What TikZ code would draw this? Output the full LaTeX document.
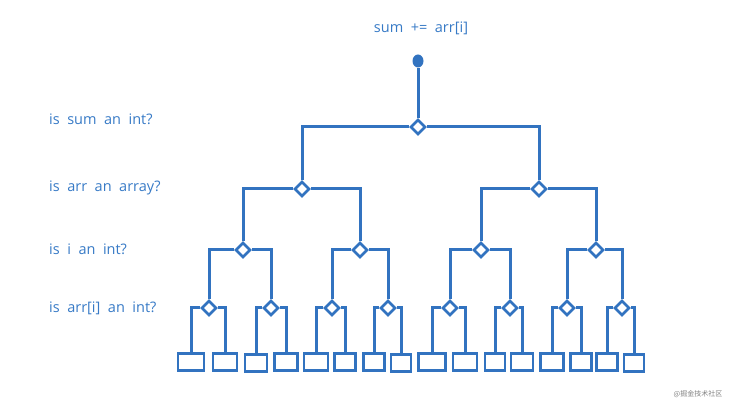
\documentclass[tikz,border=0pt]{standalone}
\usepackage{fontspec}
\setmainfont{Open Sans}
\newfontfamily\cjk{Noto Sans CJK SC}
\usepackage{tikz}
\usetikzlibrary{shapes.geometric, positioning}
\definecolor{sketchblue}{RGB}{50,115,192}
\definecolor{labelblue}{RGB}{55,122,198}

\begin{document}
\begin{tikzpicture}[
    x=1pt, y=-1pt,
    label/.style={text=labelblue, font=\fontsize{14.5}{16}\selectfont, anchor=west, inner sep=0pt},
    test/.style={diamond, draw=sketchblue, fill=white, line width=2.6pt, minimum size=15pt, inner sep=0pt},
    leaf/.style={rectangle, draw=sketchblue, line width=2.8pt, minimum width=22pt, minimum height=17pt, inner sep=0pt},
    stem/.style={draw=sketchblue, line width=3pt}
]
\useasboundingbox (0,0) rectangle (732,406);

\node[label, anchor=center] (stmt) at (421,28) {sum\ \ +=\ \ arr[i]};
\node[ellipse, fill=sketchblue, minimum width=11pt, minimum height=13pt, inner sep=0pt] (start) at (418,61) {};

\node[label] (q1) at (49,119) {is\ \ sum\ \ an\ \ int?};
\node[label] (q2) at (49,188) {is\ \ arr\ \ an\ \ array?};
\node[label] (q3) at (49,249) {is\ \ i\ \ an\ \ int?};
\node[label] (q4) at (49,308) {is\ \ arr[i]\ \ an\ \ int?};

\node[test] (t) at (418,127) {};
\node[test] (tl) at (302,189) {};
\node[test] (tr) at (539,189) {};
\node[test] (tll) at (243,250) {};
\node[test] (tlr) at (360,250) {};
\node[test] (trl) at (481,250) {};
\node[test] (trr) at (596,250) {};
\node[test] (tlll) at (209,308) {};
\node[test] (tllr) at (271,308) {};
\node[test] (tlrl) at (332,308) {};
\node[test] (tlrr) at (388,308) {};
\node[test] (trll) at (450,308) {};
\node[test] (trlr) at (510,308) {};
\node[test] (trrl) at (567,308) {};
\node[test] (trrr) at (622,308) {};

\node[leaf, minimum width=26pt] (b1) at (191,362) {};
\node[leaf, minimum width=24pt] (b2) at (225,362) {};
\node[leaf] (b3) at (256,363) {};
\node[leaf, minimum width=23pt] (b4) at (286,362) {};
\node[leaf, minimum width=24pt] (b5) at (316,362) {};
\node[leaf, minimum width=21pt] (b6) at (345,362) {};
\node[leaf, minimum width=21pt] (b7) at (374,362) {};
\node[leaf, minimum width=20pt] (b8) at (401,363) {};
\node[leaf, minimum width=27pt] (b9) at (432,362) {};
\node[leaf, minimum width=24pt] (b10) at (465,362) {};
\node[leaf, minimum width=20pt] (b11) at (495,362) {};
\node[leaf] (b12) at (522,362) {};
\node[leaf, minimum width=23pt] (b13) at (552,362) {};
\node[leaf, minimum width=21pt] (b14) at (581,362) {};
\node[leaf, minimum width=21pt] (b15) at (607,362) {};
\node[leaf, minimum width=20pt] (b16) at (634,363) {};

\node[text=gray, font=\cjk\fontsize{7}{8}\selectfont, inner sep=0pt] (mark) at (698,394) {@掘金技术社区};

\draw[stem] (start) -- (t);
\draw[stem] (t.west) -| (tl.north);
\draw[stem] (t.east) -| (tr.north);
\draw[stem] (tl.west) -| (tll.north);
\draw[stem] (tl.east) -| (tlr.north);
\draw[stem] (tr.west) -| (trl.north);
\draw[stem] (tr.east) -| (trr.north);
\draw[stem] (tll.west) -| (tlll.north);
\draw[stem] (tll.east) -| (tllr.north);
\draw[stem] (tlr.west) -| (tlrl.north);
\draw[stem] (tlr.east) -| (tlrr.north);
\draw[stem] (trl.west) -| (trll.north);
\draw[stem] (trl.east) -| (trlr.north);
\draw[stem] (trr.west) -| (trrl.north);
\draw[stem] (trr.east) -| (trrr.north);
\draw[stem] (tlll.west) -| (b1.north);
\draw[stem] (tlll.east) -| (b2.north);
\draw[stem] (tllr.west) -| (b3.north);
\draw[stem] (tllr.east) -| (b4.north);
\draw[stem] (tlrl.west) -| (b5.north);
\draw[stem] (tlrl.east) -| (b6.north);
\draw[stem] (tlrr.west) -| (b7.north);
\draw[stem] (tlrr.east) -| (b8.north);
\draw[stem] (trll.west) -| (b9.north);
\draw[stem] (trll.east) -| (b10.north);
\draw[stem] (trlr.west) -| (b11.north);
\draw[stem] (trlr.east) -| (b12.north);
\draw[stem] (trrl.west) -| (b13.north);
\draw[stem] (trrl.east) -| (b14.north);
\draw[stem] (trrr.west) -| (b15.north);
\draw[stem] (trrr.east) -| (b16.north);

\end{tikzpicture}
\end{document}
